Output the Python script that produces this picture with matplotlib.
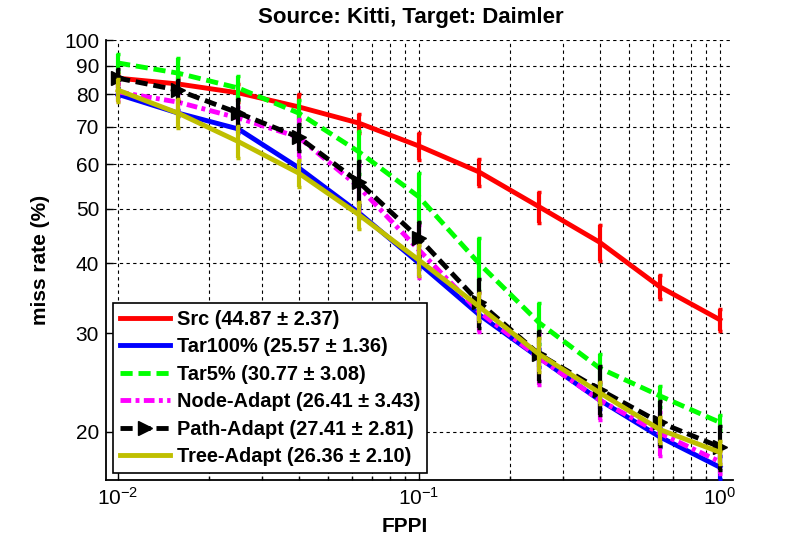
import numpy as np
import matplotlib
matplotlib.use('Agg')
import matplotlib.pyplot as plt

plt.rcParams['font.family'] = ['Liberation Sans', 'DejaVu Sans']
plt.rcParams['mathtext.default'] = 'regular'

fppi = [0.01, 0.0158, 0.0251, 0.0398, 0.0631, 0.1, 0.158, 0.251, 0.398, 0.631, 1.0]

src = [85.5, 83.5, 80.5, 76.0, 71.1, 64.7, 58.2, 50.4, 43.6, 36.3, 31.7]
tar100 = [80.0, 74.1, 69.4, 59.2, 49.2, 40.0, 32.4, 27.1, 22.8, 19.6, 17.3]
tar5 = [91.0, 87.3, 82.1, 74.1, 63.2, 52.5, 40.0, 31.3, 26.0, 23.2, 20.8]
node = [80.8, 77.5, 72.6, 67.1, 54.7, 42.2, 32.8, 27.1, 22.8, 19.9, 17.7]
path = [85.5, 81.4, 74.1, 67.1, 55.8, 44.3, 34.1, 27.5, 23.8, 20.8, 18.8]
tree = [81.4, 74.1, 65.9, 57.9, 48.8, 40.5, 33.5, 27.5, 23.5, 20.2, 18.4]

src_err = [2.0, 2.5, 3.0, 4.0, 2.8, 3.7, 3.2, 3.2, 3.2, 1.8, 1.4]
tar100_err = [1.0, 1.0, 1.0, 1.0, 1.0, 1.0, 1.0, 1.0, 0.8, 0.8, 0.8]
tar5_err = [3.4, 5.7, 4.0, 4.0, 5.6, 5.4, 4.3, 2.6, 1.6, 1.0, 0.6]
node_err = [3.0, 3.0, 3.5, 5.2, 5.2, 4.6, 2.7, 2.8, 1.8, 1.8, 0.9]
path_err = [3.4, 3.6, 4.3, 3.7, 5.0, 3.1, 3.4, 2.8, 2.4, 1.9, 1.7]
tree_err = [3.9, 4.5, 4.3, 3.2, 2.7, 2.6, 1.9, 1.9, 1.1, 1.1, 0.9]

labels = ['Src (44.87 ± 2.37)', 'Tar100% (25.57 ± 1.36)', 'Tar5% (30.77 ± 3.08)',
          'Node-Adapt (26.41 ± 3.43)', 'Path-Adapt (27.41 ± 2.81)', 'Tree-Adapt (26.36 ± 2.10)']
colors = ['#ff0000', '#0000ff', '#00ff00', '#ff00ff', '#000000', '#bfbf00']

fig = plt.figure(figsize=(8.11, 5.46), dpi=100)
ax = fig.add_axes([0.1307, 0.1209, 0.773, 0.8058])

series = [src, tar100, tar5, node, path, tree]
errs = [src_err, tar100_err, tar5_err, node_err, path_err, tree_err]
dashes = [None, None, (2.5, 1.2), (2.2, 0.9, 0.8, 0.9), (2.5, 1.2), None]
handles = []
for i, (ys, es) in enumerate(zip(series, errs)):
    c = colors[i]
    ax.errorbar(fppi, ys, yerr=es, fmt='none', ecolor=c, elinewidth=3,
                capsize=1.5, capthick=2.5, zorder=2 + i)
    kw = dict(color=c, lw=3.5, zorder=2 + i, label=labels[i])
    if i == 4:
        kw.update(marker='>', markersize=10, markerfacecolor=c, markeredgecolor=c)
    line, = ax.plot(fppi, ys, **kw)
    if dashes[i] is not None:
        line.set_dashes(dashes[i])
    handles.append(line)

ax.set_xscale('log')
ax.set_yscale('log')
ax.set_xlim(0.00912, 1.104)
ax.set_ylim(16.42, 100)

yt = [20, 30, 40, 50, 60, 70, 80, 90, 100]
ax.set_yticks(yt)
ax.set_yticklabels([str(v) for v in yt])
ax.yaxis.set_minor_locator(matplotlib.ticker.NullLocator())
ax.set_xticks([0.01, 0.1, 1])
ax.set_xticklabels(['$10^{-2}$', '$10^{-1}$', '$10^{0}$'])

ax.tick_params(axis='both', which='major', direction='in', length=5, width=1,
               labelsize=15, pad=5)
ax.tick_params(axis='x', which='minor', direction='in', length=3, width=1)

for s in ['top', 'right']:
    ax.spines[s].set_visible(False)
for s in ['left', 'bottom']:
    ax.spines[s].set_linewidth(1.3)

ax.grid(True, which='both', axis='x', color='black', linestyle=(0, (3, 3)), lw=0.8)
ax.grid(True, which='major', axis='y', color='black', linestyle=(0, (3, 3)), lw=0.8)
ax.set_axisbelow(True)

ax.set_title('Source: Kitti, Target: Daimler', fontsize=16, fontweight='bold',
             pad=12, x=0.486)
ax.set_xlabel('FPPI', fontsize=15, fontweight='bold')
ax.xaxis.set_label_coords(0.477, -0.085)
ax.set_ylabel('miss rate (%)', fontsize=15, fontweight='bold', labelpad=10)

leg = ax.legend(handles=handles, loc='lower left', bbox_to_anchor=(0.011, 0.016),
                borderaxespad=0, fancybox=False, framealpha=1, edgecolor='black',
                prop={'weight': 'bold', 'size': 14.4}, handlelength=2.5,
                handletextpad=0.35, labelspacing=0.42, borderpad=0.35)
leg.get_frame().set_linewidth(1.2)
leg.set_zorder(20)

fig.savefig('out.png', dpi=100)
